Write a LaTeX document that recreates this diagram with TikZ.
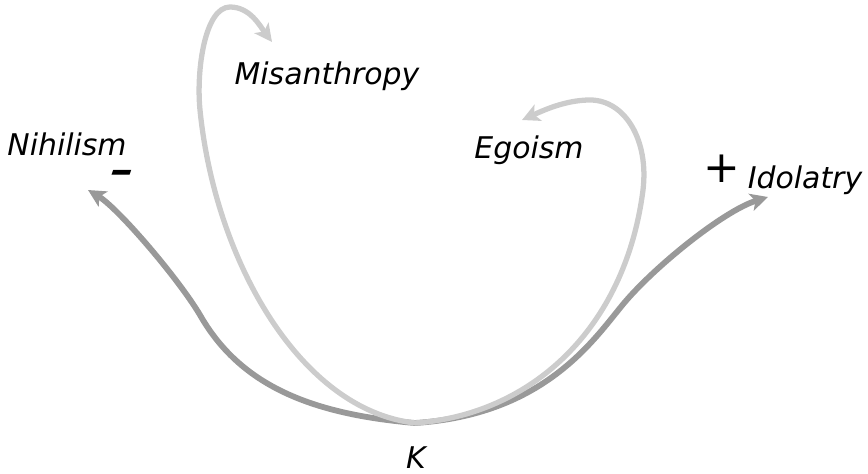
\documentclass[tikz,border=0pt]{standalone}
\usepackage{fontspec}
\setmainfont{DejaVu Sans}
\usetikzlibrary{arrows.meta}
\definecolor{strongarr}{HTML}{999999}
\definecolor{weakarr}{HTML}{CCCCCC}

\begin{document}
\begin{tikzpicture}[x=0.02cm,y=-0.02cm,
  lbl/.style={anchor=base,inner sep=0pt,font=\fontsize{17}{20}\selectfont\itshape},
  sgn/.style={anchor=base,inner sep=0pt},
  strong/.style={draw=strongarr,line width=3.3pt,-{Stealth[length=10pt,width=10pt,inset=2.5pt]}},
  weak/.style={draw=weakarr,line width=3pt,-{Stealth[length=10pt,width=10pt,inset=2.5pt]}}]
  \useasboundingbox (0,0) rectangle (868,473);
  \coordinate (hub) at (415,423);
  \coordinate (nihtip) at (88,190);
  \coordinate (idotip) at (768,197);
  \coordinate (mistip) at (272,42);
  \coordinate (egotip) at (522,120);
  \draw[strong] (hub) .. controls (310,414) and (240,385) .. (200,315)
    .. controls (178,278) and (118,208) .. (nihtip);
  \draw[strong] (hub) .. controls (540,415) and (590,345) .. (620,308)
    .. controls (650,270) and (723,211) .. (idotip);
  \draw[weak] (hub) .. controls (300,410) and (215,260) .. (200,110)
    .. controls (196,70) and (205,7) .. (230,7)
    .. controls (250,7) and (260,26) .. (mistip);
  \draw[weak] (hub) .. controls (530,415) and (625,330) .. (643,190)
    .. controls (649,140) and (625,100) .. (590,100)
    .. controls (565,100) and (542,111) .. (egotip);
  \node[lbl] (nihilism) at (67,155) {Nihilism};
  \node[lbl] (misanthropy) at (327,85) {Misanthropy};
  \node[lbl] (egoism) at (529,158) {Egoism};
  \node[lbl] (idolatry) at (805,188) {Idolatry};
  \node[lbl] (k) at (416,468) {K};
  \node[sgn,xscale=1.4,yscale=0.8,font=\fontsize{24}{26}\selectfont\bfseries\itshape] (minus) at (123,182) {-};
  \node[sgn,font=\fontsize{25}{28}\selectfont] (plus) at (722,182) {+};
\end{tikzpicture}
\end{document}
